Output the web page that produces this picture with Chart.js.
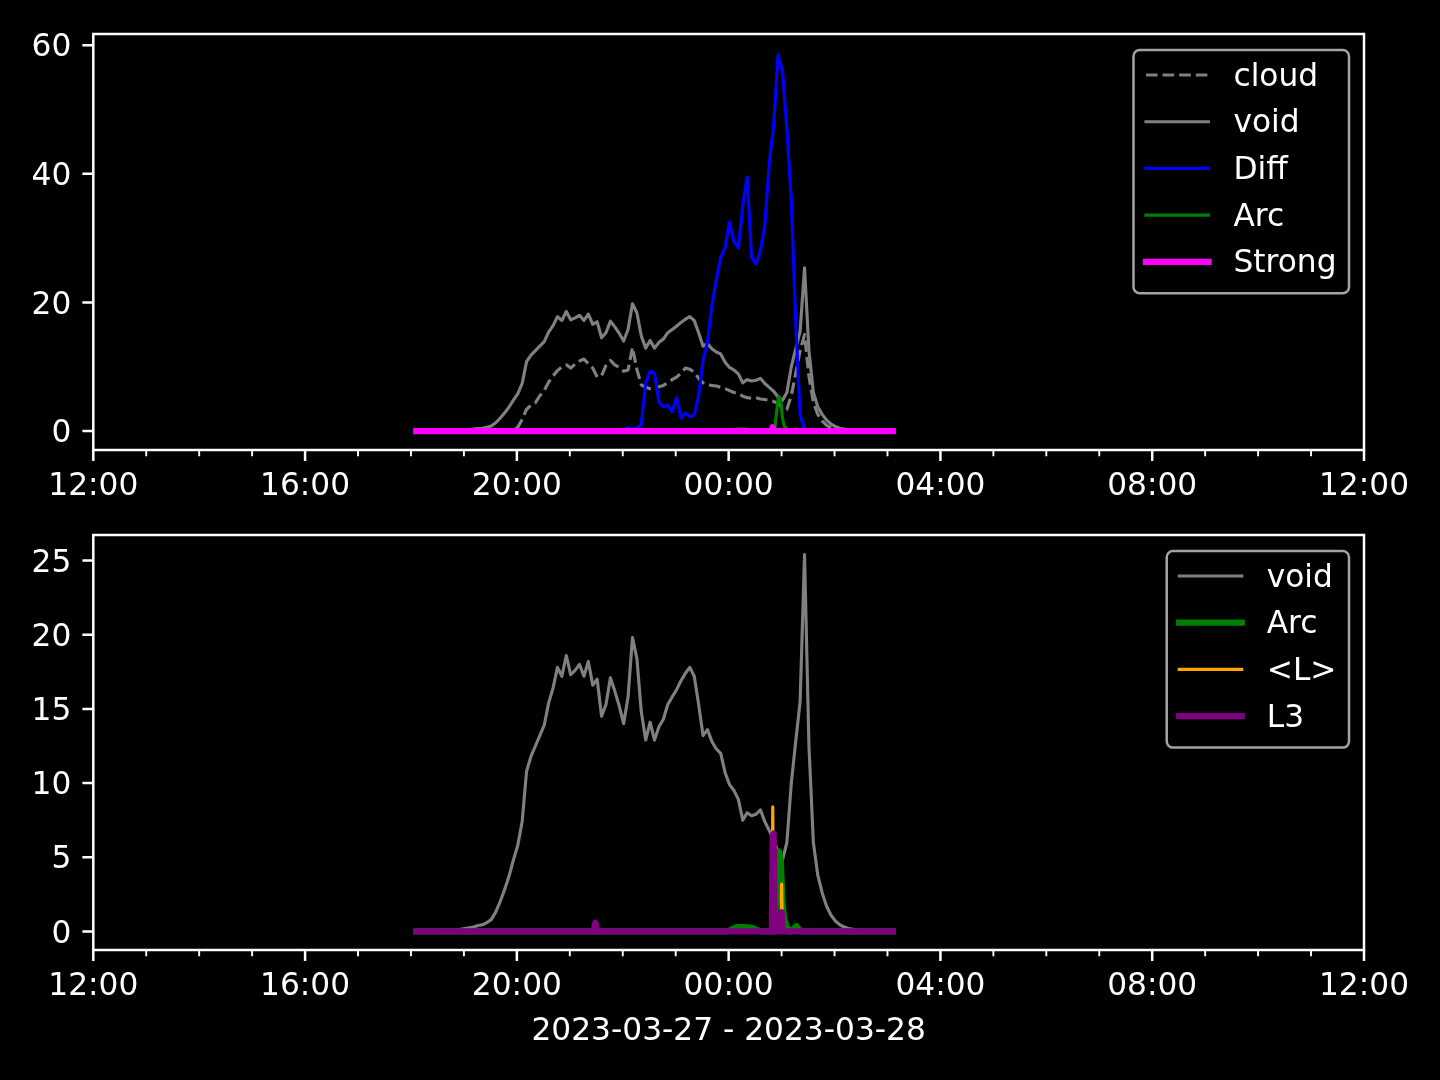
<!DOCTYPE html>
<html>
<head>
<meta charset="utf-8">
<title>cloud / void / Diff</title>
<script src="https://cdn.jsdelivr.net/npm/chart.js@4.4.1/dist/chart.umd.min.js"></script>
<style>
  html, body { margin: 0; padding: 0; background: #000; }
  #wrap { position: relative; width: 1440px; height: 1080px; background: #000; }
  canvas { position: absolute; left: 0; }
  #topChart { top: 0; }
  #bottomChart { top: 510px; }
</style>
</head>
<body>
<div id="wrap">
  <canvas id="topChart" width="1440" height="510"></canvas>
  <canvas id="bottomChart" width="1440" height="570"></canvas>
</div>
<script>
// x axis runs in minutes after 12:00 on 2023-03-27
const xTickLabels = ['12:00', '16:00', '20:00', '00:00', '04:00', '08:00', '12:00'];
const topYTicks = [0, 20, 40, 60];
const bottomYTicks = [0, 5, 10, 15, 20, 25];
const dateLabel = '2023-03-27 - 2023-03-28';

// regular samples every 5 minutes, 18:06 .. 03:06
const sampleStart = '18:06';
const sampleStep = 5;

const cloudVals = [
  0, 0, 0, 0, 0, 0, 0, 0, 0, 0, 0,                        // 18h
  0, 0, 0, 0, 0, 0, 0, 0, 0, 0, 0, 0.2,                   // 19h
  0.6, 1.8, 3.4, 4.0, 4.4, 5.5, 6.3, 7.6, 8.6, 9.4, 10.0, 10.3, // 20h
  9.8, 10.4, 10.9, 11.2, 10.5, 9.8, 8.4, 8.6, 10.2, 11.0, 10.3, 9.9, // 21h
  9.3, 9.5, 13.0, 9.6, 7.2, 6.8, 6.6, 6.7, 6.9, 7.1, 7.5, 8.0, // 22h
  8.4, 9.0, 9.8, 9.6, 9.2, 8.2, 7.5, 7.2, 7.1, 7.0, 6.8, 6.6, // 23h
  6.3, 6.0, 5.9, 5.4, 5.2, 5.1, 5.2, 5.0, 4.9, 4.8, 4.6, 4.3, // 00h
  3.6, 3.4, 5.5, 9.0, 12.5, 15.0, 8.5, 4.5, 2.6, 1.6, 0.9, 0.5, // 01h
  0.3, 0.15, 0.05, 0, 0, 0, 0, 0, 0, 0, 0, 0,             // 02h
  0, 0                                                    // 03h
];

const voidVals = [
  0.05, 0.05, 0.05, 0.05, 0.05, 0.05, 0.05, 0.1, 0.1, 0.1, 0.15,
  0.2, 0.25, 0.3, 0.4, 0.45, 0.6, 0.8, 1.3, 2.0, 2.8, 3.7, 4.8,
  5.8, 7.4, 10.8, 11.8, 12.5, 13.2, 13.9, 15.4, 16.4, 17.8, 17.2, 18.6,
  17.3, 17.6, 18.0, 17.2, 18.2, 16.6, 17.0, 14.5, 15.3, 17.1, 16.2, 15.2,
  14.0, 15.8, 19.8, 18.4, 14.8, 12.9, 14.1, 12.9, 13.8, 14.3, 15.3, 15.8,
  16.3, 16.9, 17.4, 17.8, 17.2, 15.3, 13.2, 13.6, 12.8, 12.3, 12.0, 10.7,
  9.9, 9.5, 8.9, 7.5, 8.0, 7.8, 7.9, 8.2, 7.4, 6.8, 6.2, 5.3,
  4.8, 6.0, 10.0, 12.8, 15.5, 25.4, 12.5, 6.0, 3.8, 2.6, 1.7, 1.1,
  0.7, 0.45, 0.3, 0.2, 0.15, 0.1, 0.1, 0.05, 0.05, 0.05, 0.05, 0.05,
  0.05, 0.05
];

const diffVals = [
  0, 0, 0, 0, 0, 0, 0, 0, 0, 0, 0,
  0, 0, 0, 0, 0, 0, 0, 0, 0, 0, 0, 0,
  0, 0, 0, 0, 0, 0, 0, 0, 0, 0, 0, 0,
  0, 0, 0, 0, 0, 0, 0, 0, 0, 0, 0, 0,
  0.3, 0.5, 0.2, 0.5, 1.0, 7.5, 9.3, 9.0, 4.5, 3.8, 4.0, 3.0,
  5.2, 2.0, 2.8, 2.2, 2.5, 5.5, 11.0, 13.8, 19.5, 23.5, 27.0, 28.5,
  32.5, 29.5, 28.5, 35.0, 39.5, 27.0, 26.0, 28.0, 32.0, 41.5, 47.5, 58.5,
  56.0, 47.0, 36.0, 17.0, 2.5, 0.3, 0, 0, 0, 0, 0, 0,
  0, 0, 0, 0, 0, 0, 0, 0, 0, 0, 0, 0,
  0, 0
];

// sparse series, mostly zero
const arcTimes = ['18:06', '00:00', '00:04', '00:10', '00:18', '00:26', '00:32', '00:36', '00:52', '00:54', '00:56',
  '00:57', '00:59', '01:01', '01:03', '01:06', '01:09', '01:14', '01:17', '01:20', '01:23', '03:06'];
const arcVals = [0, 0, 0.15, 0.3, 0.3, 0.25, 0.1, 0, 0, 2.5, 5.0, 5.4, 4.8, 2.0, 0.8, 0.3, 0, 0.2, 0.35, 0.1, 0, 0];

const strongTimes = ['18:06', '00:49', '00:50', '00:51', '03:06'];
const strongVals = [0, 0, 0.6, 0, 0];

const lTimes = ['18:06', '00:49', '00:50', '00:51', '00:59', '01:00', '01:01', '03:06'];
const lVals = [0, 0, 8.4, 0, 0, 3.2, 0, 0];

const l3Times = ['18:06', '21:27', '21:29', '21:31', '00:49', '00:50', '00:51', '00:52', '00:58', '00:59', '01:00', '01:01', '03:06'];
const l3Vals = [0, 0, 0.6, 0, 0, 6.5, 6.6, 0, 0, 1.2, 1.3, 0, 0];

// --- helpers -------------------------------------------------------------
const FONT = 31.25;
const THIN = 3.125;
const THICK = 6.25;
Chart.defaults.font.family = 'DejaVu Sans';
Chart.defaults.font.size = FONT;
Chart.defaults.color = '#ffffff';

// 'HH:MM' -> minutes after 12:00 (times before noon belong to the next day)
function toMin(t) {
  const [h, m] = t.split(':').map(Number);
  return (h < 12 ? h + 24 : h) * 60 + m - 720;
}

const xTickValues = xTickLabels.map((_, i) => i * 240);
const gridStart = toMin(sampleStart);

function regular(vals) {
  return vals.map((v, i) => ({ x: gridStart + i * sampleStep, y: v }));
}
function sparse(times, vals) {
  return times.map((t, i) => ({ x: toMin(t), y: vals[i] }));
}

function line(label, data, color, width, order, dash) {
  return {
    label, data, order,
    borderColor: color,
    borderWidth: width,
    borderDash: dash || [],
    borderCapStyle: dash ? 'butt' : 'square',
    borderJoinStyle: 'round',
    pointRadius: 0,
    tension: 0,
    fill: false,
    clip: 0
  };
}

// spines and tick marks, matplotlib style
const mplAxes = {
  id: 'mplAxes',
  afterDatasetsDraw(chart, args, opts) {
    const { ctx, chartArea: a, scales } = chart;
    ctx.save();
    ctx.strokeStyle = '#ffffff';
    ctx.lineCap = 'butt';

    ctx.lineWidth = 1.9;
    ctx.beginPath();
    for (let h = 1; h < 24; h++) {
      if (h % 4 === 0) continue;
      const x = scales.x.getPixelForValue(h * 60);
      ctx.moveTo(x, a.bottom);
      ctx.lineTo(x, a.bottom + 6.25);
    }
    ctx.stroke();

    ctx.lineWidth = 2.5;
    ctx.beginPath();
    xTickValues.forEach(v => {
      const x = scales.x.getPixelForValue(v);
      ctx.moveTo(x, a.bottom);
      ctx.lineTo(x, a.bottom + 10.9);
    });
    opts.yTicks.forEach(v => {
      const y = scales.y.getPixelForValue(v);
      ctx.moveTo(a.left, y);
      ctx.lineTo(a.left - 10.9, y);
    });
    ctx.stroke();

    ctx.lineJoin = 'miter';
    ctx.strokeRect(a.left, a.top, a.right - a.left, a.bottom - a.top);
    ctx.restore();
  }
};

// framed legend in the upper right corner
const mplLegend = {
  id: 'mplLegend',
  afterDraw(chart) {
    const { ctx, chartArea: a } = chart;
    const sets = chart.data.datasets;
    ctx.save();
    ctx.font = FONT + 'px "DejaVu Sans"';
    const textW = Math.max(...sets.map(d => ctx.measureText(d.label).width));
    const w = 12.5 + 62.5 + 25 + textW + 12.5;
    const h = 25 + (sets.length - 1) * 46.7 + 31.5;
    const right = a.right - 15;
    const top = a.top + 16;
    const left = right - w;

    ctx.beginPath();
    ctx.roundRect(left, top, w, h, 6.25);
    ctx.fillStyle = 'rgba(0,0,0,0.8)';
    ctx.fill();
    ctx.lineWidth = 2.5;
    ctx.strokeStyle = 'rgba(204,204,204,0.8)';
    ctx.stroke();

    sets.forEach((d, i) => {
      const cy = top + 25 + i * 46.7;
      ctx.beginPath();
      ctx.strokeStyle = d.borderColor;
      ctx.lineWidth = d.borderWidth;
      ctx.setLineDash(d.borderDash);
      ctx.lineCap = d.borderCapStyle;
      ctx.moveTo(left + 12.5, cy);
      ctx.lineTo(left + 75, cy);
      ctx.stroke();
      ctx.setLineDash([]);
      ctx.fillStyle = '#ffffff';
      ctx.textBaseline = 'alphabetic';
      ctx.textAlign = 'left';
      ctx.fillText(d.label, left + 100, cy + 10.5);
    });
    ctx.restore();
  }
};

function makeChart(id, datasets, yMin, yMax, yTicks, padTop, xHeight, withTitle) {
  return new Chart(document.getElementById(id), {
    type: 'line',
    data: { datasets },
    options: {
      responsive: false,
      animation: false,
      events: [],
      layout: { padding: { top: padTop, right: 76, bottom: 0, left: 0 } },
      scales: {
        x: {
          type: 'linear',
          min: 0,
          max: 1440,
          grid: { display: false, drawTicks: false },
          border: { display: false },
          afterBuildTicks: s => { s.ticks = xTickValues.map(v => ({ value: v })); },
          afterFit: s => {
            s.height = xHeight;
            s.paddingLeft = 0; s.paddingRight = 0; s.paddingTop = 0; s.paddingBottom = 0;
          },
          ticks: {
            color: '#ffffff',
            padding: 18,
            maxRotation: 0,
            autoSkip: false,
            callback: (v, i) => xTickLabels[i]
          },
          title: {
            display: withTitle,
            text: dateLabel,
            color: '#ffffff',
            padding: { top: 29.25, bottom: 29.25 }
          }
        },
        y: {
          type: 'linear',
          min: yMin,
          max: yMax,
          grid: { display: false, drawTicks: false },
          border: { display: false },
          afterBuildTicks: s => { s.ticks = yTicks.map(v => ({ value: v })); },
          afterFit: s => {
            s.width = 93.3;
            s.paddingLeft = 0; s.paddingRight = 0; s.paddingTop = 0; s.paddingBottom = 0;
          },
          ticks: { color: '#ffffff', padding: 22, labelOffset: 3, autoSkip: false }
        }
      },
      plugins: {
        legend: { display: false },
        tooltip: { enabled: false },
        mplAxes: { yTicks }
      }
    },
    plugins: [mplAxes, mplLegend]
  });
}

makeChart('topChart', [
  line('cloud', regular(cloudVals), '#808080', THIN, 5, [11.6, 5]),
  line('void', regular(voidVals), '#808080', THIN, 4),
  line('Diff', regular(diffVals), '#0000ff', THIN, 3),
  line('Arc', sparse(arcTimes, arcVals), '#008000', THIN, 2),
  line('Strong', sparse(strongTimes, strongVals), '#ff00ff', THICK, 1)
], -2.94, 61.74, topYTicks, 34, 60, false);

makeChart('bottomChart', [
  line('void', regular(voidVals), '#808080', THIN, 4),
  line('Arc', sparse(arcTimes, arcVals), '#008000', THICK, 3),
  line('<L>', sparse(lTimes, lVals), '#ffa500', THIN, 2),
  line('L3', sparse(l3Times, l3Vals), '#800080', THICK, 1)
], -1.25, 26.72, bottomYTicks, 25, 130, true);
</script>
</body>
</html>
